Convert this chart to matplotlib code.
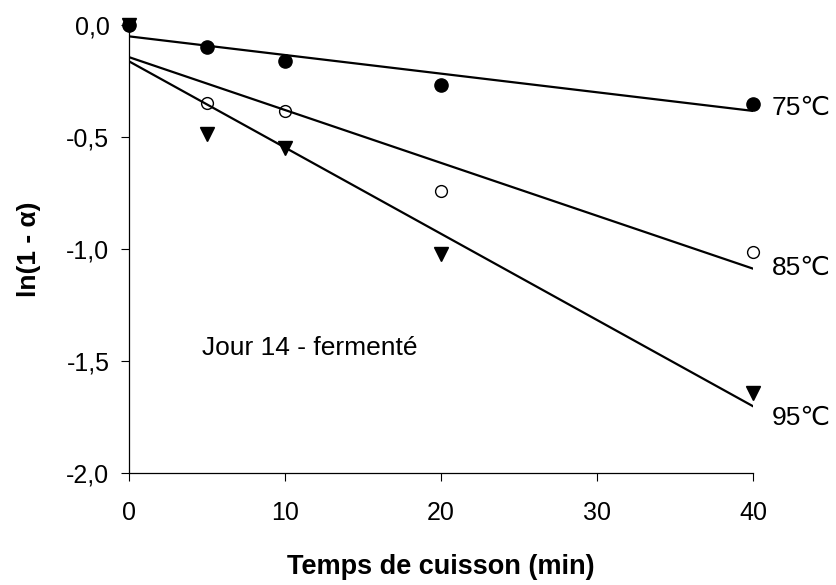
import numpy as np
import matplotlib
matplotlib.use("Agg")
import matplotlib.pyplot as plt

plt.rcParams['font.family'] = ['Liberation Sans', 'DejaVu Sans']

# temps de cuisson (min)
temps = [0, 5, 10, 20, 40]
# ln(1 - alpha), jour 14 fermenté
y75 = [0.0, -0.097, -0.159, -0.268, -0.35]
y85 = [0.0, -0.347, -0.384, -0.741, -1.012]
y95 = [0.0, -0.484, -0.55, -1.02, -1.64]
labels = ["75\u2103", "85\u2103", "95\u2103"]
label_y = [-0.37, -1.085, -1.755]

fig = plt.figure(figsize=(8.37, 5.85), dpi=100)
ax = fig.add_axes([0.154, 0.191, 0.746, 0.766])

t = np.array(temps, dtype=float)
series = [
    (y75, dict(marker='o', ms=9.5, mfc='black', mec='black')),
    (y85, dict(marker='o', ms=8.5, mfc='none', mec='black', mew=1.0)),
    (y95, dict(marker='v', ms=9.5, mfc='black', mec='black')),
]
for (y, style), lab, ly in zip(series, labels, label_y):
    a, b = np.polyfit(t, y, 1)
    ax.plot([0, 40], [b, b + a * 40], color='black', lw=1.6, zorder=2)
    ax.plot(t, y, ls='none', clip_on=False, zorder=3, **style)
    ax.text(41.2, ly, lab, fontsize=19, va='center', ha='left')

ax.text(4.7, -1.44, "Jour 14 - fermenté", fontsize=19, va='center', ha='left')

ax.set_xlim(0, 40)
ax.set_ylim(-2.0, 0.0)
ax.set_xticks([0, 10, 20, 30, 40])
ax.set_yticks([0, -0.5, -1.0, -1.5, -2.0])
ax.set_yticklabels(["0,0", "-0,5", "-1,0", "-1,5", "-2,0"])
ax.tick_params(axis='both', labelsize=18, length=6, width=0.8, direction='out')
ax.tick_params(axis='x', pad=14)
ax.tick_params(axis='y', pad=8)
for s in ['top', 'right']:
    ax.spines[s].set_visible(False)
for s in ['left', 'bottom']:
    ax.spines[s].set_linewidth(0.9)

ax.set_xlabel("Temps de cuisson (min)", fontsize=19.5, fontweight='bold', labelpad=21)
ax.set_ylabel("ln(1 - \u03b1)", fontsize=19, fontweight='bold', labelpad=18)

fig.savefig("out.png", dpi=100)
